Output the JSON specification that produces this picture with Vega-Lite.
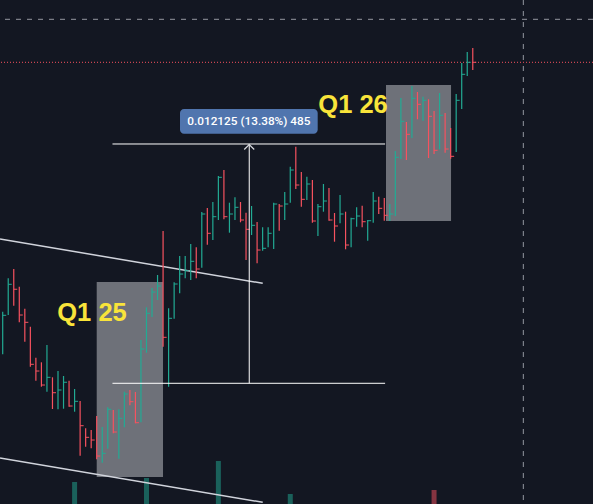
{
  "$schema": "https://vega.github.io/schema/vega-lite/v6.json",
  "width": 593,
  "height": 504,
  "autosize": {"type": "none"},
  "padding": 0,
  "background": "#131722",
  "config": {"view": {"stroke": null}, "scale": {"continuousPadding": 0}},
  "datasets": {
    "bars": [
      {"t":0,"h":0.094248,"l":0.092090,"c":0.094066,"d":"up"},
      {"t":1,"h":0.095940,"l":0.094081,"c":0.095637,"d":"up"},
      {"t":2,"h":0.096412,"l":0.094552,"c":0.095383,"d":"down"},
      {"t":3,"h":0.095515,"l":0.093711,"c":0.094081,"d":"down"},
      {"t":4,"h":0.094400,"l":0.092728,"c":0.093711,"d":"down"},
      {"t":5,"h":0.093488,"l":0.091461,"c":0.091583,"d":"down"},
      {"t":6,"h":0.091917,"l":0.090752,"c":0.091243,"d":"down"},
      {"t":7,"h":0.091684,"l":0.090448,"c":0.090534,"d":"down"},
      {"t":8,"h":0.092561,"l":0.090195,"c":0.090924,"d":"up"},
      {"t":9,"h":0.090924,"l":0.089318,"c":0.090144,"d":"down"},
      {"t":10,"h":0.091243,"l":0.089303,"c":0.090281,"d":"up"},
      {"t":11,"h":0.090990,"l":0.089333,"c":0.090671,"d":"up"},
      {"t":12,"h":0.090752,"l":0.089434,"c":0.089470,"d":"down"},
      {"t":13,"h":0.090331,"l":0.089181,"c":0.089708,"d":"up"},
      {"t":14,"h":0.089723,"l":0.086952,"c":0.088472,"d":"down"},
      {"t":15,"h":0.088340,"l":0.087408,"c":0.087884,"d":"down"},
      {"t":16,"h":0.088254,"l":0.087327,"c":0.087747,"d":"down"},
      {"t":17,"h":0.088963,"l":0.086769,"c":0.086936,"d":"down"},
      {"t":18,"h":0.088406,"l":0.086597,"c":0.087073,"d":"up"},
      {"t":19,"h":0.089404,"l":0.087306,"c":0.089303,"d":"up"},
      {"t":20,"h":0.089267,"l":0.088087,"c":0.088153,"d":"down"},
      {"t":21,"h":0.089303,"l":0.086800,"c":0.088847,"d":"up"},
      {"t":22,"h":0.090195,"l":0.088391,"c":0.090078,"d":"up"},
      {"t":23,"h":0.090281,"l":0.089505,"c":0.089688,"d":"down"},
      {"t":24,"h":0.090179,"l":0.088593,"c":0.088624,"d":"down"},
      {"t":25,"h":0.092814,"l":0.088644,"c":0.092358,"d":"up"},
      {"t":26,"h":0.094471,"l":0.092171,"c":0.094167,"d":"up"},
      {"t":27,"h":0.095449,"l":0.093980,"c":0.095246,"d":"up"},
      {"t":28,"h":0.096108,"l":0.094841,"c":0.095550,"d":"up"},
      {"t":29,"h":0.098337,"l":0.092475,"c":0.092951,"d":"down"},
      {"t":30,"h":0.094420,"l":0.090448,"c":0.093914,"d":"up"},
      {"t":31,"h":0.095738,"l":0.093894,"c":0.095652,"d":"up"},
      {"t":32,"h":0.097070,"l":0.095180,"c":0.096158,"d":"up"},
      {"t":33,"h":0.097070,"l":0.095940,"c":0.096326,"d":"up"},
      {"t":34,"h":0.097679,"l":0.095854,"c":0.096802,"d":"up"},
      {"t":35,"h":0.097511,"l":0.095940,"c":0.096412,"d":"down"},
      {"t":36,"h":0.099300,"l":0.096478,"c":0.099199,"d":"up"},
      {"t":37,"h":0.099503,"l":0.097643,"c":0.098221,"d":"down"},
      {"t":38,"h":0.099807,"l":0.097881,"c":0.099062,"d":"up"},
      {"t":39,"h":0.101124,"l":0.098895,"c":0.101058,"d":"up"},
      {"t":40,"h":0.101428,"l":0.098930,"c":0.099062,"d":"down"},
      {"t":41,"h":0.099771,"l":0.098251,"c":0.099199,"d":"up"},
      {"t":42,"h":0.100045,"l":0.098895,"c":0.099538,"d":"up"},
      {"t":43,"h":0.099807,"l":0.098778,"c":0.098895,"d":"down"},
      {"t":44,"h":0.099264,"l":0.096868,"c":0.098423,"d":"down"},
      {"t":45,"h":0.099604,"l":0.098135,"c":0.098626,"d":"up"},
      {"t":46,"h":0.098793,"l":0.096701,"c":0.097374,"d":"down"},
      {"t":47,"h":0.098525,"l":0.097339,"c":0.097461,"d":"up"},
      {"t":48,"h":0.098525,"l":0.097511,"c":0.098221,"d":"up"},
      {"t":49,"h":0.099771,"l":0.097425,"c":0.099705,"d":"up"},
      {"t":50,"h":0.099705,"l":0.098352,"c":0.099604,"d":"down"},
      {"t":51,"h":0.100313,"l":0.098895,"c":0.099705,"d":"up"},
      {"t":52,"h":0.101595,"l":0.099771,"c":0.101428,"d":"up"},
      {"t":53,"h":0.102609,"l":0.100465,"c":0.100668,"d":"down"},
      {"t":54,"h":0.101327,"l":0.099569,"c":0.099943,"d":"down"},
      {"t":55,"h":0.101089,"l":0.099908,"c":0.100719,"d":"up"},
      {"t":56,"h":0.100921,"l":0.098758,"c":0.098844,"d":"down"},
      {"t":57,"h":0.099705,"l":0.098084,"c":0.099569,"d":"up"},
      {"t":58,"h":0.100719,"l":0.099315,"c":0.099857,"d":"up"},
      {"t":59,"h":0.100516,"l":0.098859,"c":0.098895,"d":"down"},
      {"t":60,"h":0.099249,"l":0.097795,"c":0.098591,"d":"down"},
      {"t":61,"h":0.100161,"l":0.098727,"c":0.099199,"d":"up"},
      {"t":62,"h":0.099315,"l":0.097410,"c":0.097628,"d":"down"},
      {"t":63,"h":0.099011,"l":0.097511,"c":0.098960,"d":"up"},
      {"t":64,"h":0.099538,"l":0.098555,"c":0.099097,"d":"up"},
      {"t":65,"h":0.099619,"l":0.098525,"c":0.098808,"d":"down"},
      {"t":66,"h":0.098895,"l":0.097846,"c":0.098859,"d":"up"},
      {"t":67,"h":0.100313,"l":0.098758,"c":0.099857,"d":"up"},
      {"t":68,"h":0.100075,"l":0.099199,"c":0.099487,"d":"down"},
      {"t":69,"h":0.100009,"l":0.098859,"c":0.099133,"d":"down"},
      {"t":70,"h":0.099705,"l":0.098844,"c":0.099199,"d":"up"},
      {"t":71,"h":0.102391,"l":0.099097,"c":0.102072,"d":"up"},
      {"t":72,"h":0.105076,"l":0.101985,"c":0.103896,"d":"up"},
      {"t":73,"h":0.103860,"l":0.101935,"c":0.103237,"d":"down"},
      {"t":74,"h":0.105684,"l":0.103050,"c":0.105061,"d":"up"},
      {"t":75,"h":0.105380,"l":0.103997,"c":0.104757,"d":"down"},
      {"t":76,"h":0.105142,"l":0.103926,"c":0.104960,"d":"up"},
      {"t":77,"h":0.105010,"l":0.102036,"c":0.104149,"d":"down"},
      {"t":78,"h":0.104418,"l":0.102239,"c":0.102426,"d":"down"},
      {"t":79,"h":0.105330,"l":0.102477,"c":0.104200,"d":"up"},
      {"t":80,"h":0.104316,"l":0.102305,"c":0.102492,"d":"down"},
      {"t":81,"h":0.103556,"l":0.102001,"c":0.102122,"d":"down"},
      {"t":82,"h":0.105279,"l":0.102340,"c":0.104960,"d":"up"},
      {"t":83,"h":0.106850,"l":0.104519,"c":0.106277,"d":"up"},
      {"t":84,"h":0.107407,"l":0.106191,"c":0.106885,"d":"up"},
      {"t":85,"h":0.107610,"l":0.106495,"c":0.106885,"d":"down"}
    ],
    "vol": [
      {"t":13,"v":21800000,"d":"up"},
      {"t":26,"v":25800000,"d":"up"},
      {"t":39,"v":42700000,"d":"up"},
      {"t":52,"v":9900000,"d":"up"},
      {"t":78,"v":13900000,"d":"down"}
    ],
    "boxes": [
      {"x1":17.0,"x2":28.99,"lo":0.085872,"hi":0.095753},
      {"x1":69.31,"x2":81.07,"lo":0.098844,"hi":0.105735}
    ],
    "trend": [
      {"x1":-0.49,"x2":47.02,"y1":0.097932,"y2":0.095687},
      {"x1":-0.49,"x2":47.02,"y1":0.086835,"y2":0.084590}
    ],
    "measure": [
      {"x1":19.85,"x2":69.15,"y1":0.102746,"y2":0.102746},
      {"x1":19.85,"x2":69.15,"y1":0.090621,"y2":0.090621},
      {"x1":44.58,"x2":44.58,"y1":0.090621,"y2":0.102746}
    ],
    "crossH": [{"p":0.109064}],
    "crossV": [{"t":94.14}],
    "last": [{"p":0.106885}],
    "arrow": [{"t":44.58,"p":0.102746}],
    "label": [{"x1":32.06,"x2":56.96,"y1":0.104519,"y2":0.103267,"xc":44.51,"yc":0.103893,"txt":"0.012125 (13.38%) 485"}],
    "notes": [
      {"t":9.87,"p":0.093792,"txt":"Q1 25"},
      {"t":57.07,"p":0.104301,"txt":"Q1 26"}
    ]
  },
  "resolve": {"scale": {"y": "independent"}},
  "layer": [
    {
      "data": {"name": "vol"},
      "mark": {"type": "bar", "size": 5, "opacity": 0.5},
      "encoding": {
        "x": {"field": "t", "type": "quantitative", "scale": {"domain": [-0.488, 106.74], "nice": false, "zero": false, "padding": 0}, "axis": null},
        "y": {"field": "v", "type": "quantitative", "scale": {"domain": [0, 500000000], "nice": false, "padding": 0}, "axis": null},
        "color": {"field": "d", "type": "nominal", "scale": {"domain": ["up", "down"], "range": ["#22ab94", "#f7525f"]}, "legend": null}
      }
    },
    {
      "layer": [
        {
          "data": {"name": "boxes"},
          "mark": {"type": "rect", "color": "#6e7179"},
          "encoding": {
            "x": {"field": "x1", "type": "quantitative", "axis": null},
            "x2": {"field": "x2"},
            "y": {"field": "lo", "type": "quantitative", "scale": {"domain": [0.084505, 0.110042], "nice": false, "zero": false, "padding": 0}, "axis": null},
            "y2": {"field": "hi"}
          }
        },
        {
          "data": {"name": "trend"},
          "mark": {"type": "rule", "color": "#d1d4dc", "strokeWidth": 1.5, "clip": true},
          "encoding": {
            "x": {"field": "x1", "type": "quantitative", "axis": null},
            "x2": {"field": "x2"},
            "y": {"field": "y1", "type": "quantitative", "axis": null},
            "y2": {"field": "y2"}
          }
        },
        {
          "data": {"name": "crossH"},
          "mark": {"type": "rule", "color": "#9598a1", "strokeWidth": 1, "strokeDash": [5, 6]},
          "encoding": {
            "y": {"field": "p", "type": "quantitative", "axis": null}
          }
        },
        {
          "data": {"name": "crossV"},
          "mark": {"type": "rule", "color": "#9598a1", "strokeWidth": 1, "strokeDash": [5, 6]},
          "encoding": {
            "x": {"field": "t", "type": "quantitative", "axis": null}
          }
        },
        {
          "data": {"name": "last"},
          "mark": {"type": "rule", "color": "#f7525f", "strokeWidth": 1, "strokeDash": [1, 2]},
          "encoding": {
            "y": {"field": "p", "type": "quantitative", "axis": null}
          }
        },
        {
          "data": {"name": "bars"},
          "mark": {"type": "rule", "strokeWidth": 1.2},
          "encoding": {
            "x": {"field": "t", "type": "quantitative", "axis": null},
            "y": {"field": "l", "type": "quantitative", "axis": null},
            "y2": {"field": "h"},
            "color": {"field": "d", "type": "nominal", "legend": null}
          }
        },
        {
          "data": {"name": "bars"},
          "mark": {"type": "tick", "orient": "horizontal", "size": 3.5, "thickness": 1, "xOffset": 1.75, "opacity": 1},
          "encoding": {
            "x": {"field": "t", "type": "quantitative", "axis": null},
            "y": {"field": "c", "type": "quantitative", "axis": null},
            "color": {"field": "d", "type": "nominal", "legend": null}
          }
        },
        {
          "data": {"name": "measure"},
          "mark": {"type": "rule", "color": "#ffffff", "strokeWidth": 1},
          "encoding": {
            "x": {"field": "x1", "type": "quantitative", "axis": null},
            "x2": {"field": "x2"},
            "y": {"field": "y1", "type": "quantitative", "axis": null},
            "y2": {"field": "y2"}
          }
        },
        {
          "data": {"name": "arrow"},
          "mark": {"type": "point", "shape": "M-1,1L0,0L1,1", "size": 100, "filled": false, "color": "#d8dae0", "strokeWidth": 1.2, "opacity": 1, "yOffset": 0.5},
          "encoding": {
            "x": {"field": "t", "type": "quantitative", "axis": null},
            "y": {"field": "p", "type": "quantitative", "axis": null}
          }
        },
        {
          "data": {"name": "label"},
          "mark": {"type": "rect", "color": "#5075ae", "cornerRadius": 4},
          "encoding": {
            "x": {"field": "x1", "type": "quantitative", "axis": null},
            "x2": {"field": "x2"},
            "y": {"field": "y1", "type": "quantitative", "axis": null},
            "y2": {"field": "y2"}
          }
        },
        {
          "data": {"name": "label"},
          "mark": {"type": "text", "color": "#ffffff", "font": "Roboto", "fontSize": 11.8, "fontWeight": 500, "align": "center", "baseline": "middle"},
          "encoding": {
            "x": {"field": "xc", "type": "quantitative", "axis": null},
            "y": {"field": "yc", "type": "quantitative", "axis": null},
            "text": {"field": "txt"}
          }
        },
        {
          "data": {"name": "notes"},
          "mark": {"type": "text", "color": "#f9e43a", "font": "Liberation Sans", "fontSize": 25.5, "fontWeight": "bold", "align": "left", "baseline": "alphabetic"},
          "encoding": {
            "x": {"field": "t", "type": "quantitative", "axis": null},
            "y": {"field": "p", "type": "quantitative", "axis": null},
            "text": {"field": "txt"}
          }
        }
      ]
    }
  ]
}
